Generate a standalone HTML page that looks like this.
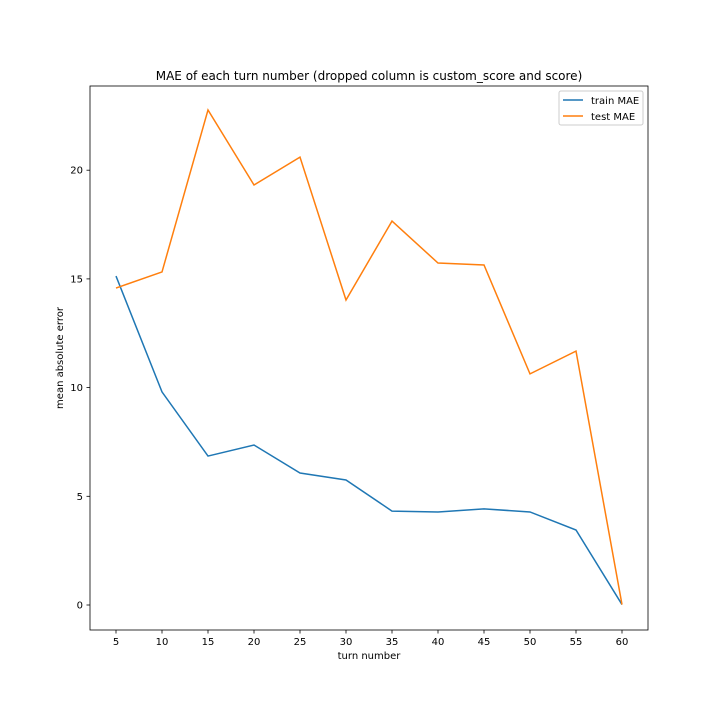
<!DOCTYPE html>
<html><head><meta charset="utf-8"><style>
body{margin:0;background:#fff;}
svg text{font-family:"DejaVu Sans","Liberation Sans",sans-serif;fill:#000;}
</style></head><body>
<svg id="chart" width="720" height="720" xmlns="http://www.w3.org/2000/svg">
<rect x="0" y="0" width="720" height="720" fill="#fff"/>
<text x="369" y="80" font-size="12" text-anchor="middle">MAE of each turn number (dropped column is custom_score and score)</text>
<g id="ticks"></g>
<g id="series"></g>
<rect x="90" y="86" width="558" height="544" fill="none" stroke="#000" stroke-width="0.8"/>
<text x="369" y="659" font-size="10" text-anchor="middle">turn number</text>
<text transform="translate(63,358) rotate(-90)" font-size="10" text-anchor="middle">mean absolute error</text>
<g>
<rect x="559" y="91" width="84" height="34" fill="#fff" stroke="#ccc" rx="2"/>
<line x1="563" y1="100" x2="583" y2="100" stroke="#1f77b4" stroke-width="1.5"/>
<text x="591" y="104" font-size="10">train MAE</text>
<line x1="563" y1="116" x2="583" y2="116" stroke="#ff7f0e" stroke-width="1.5"/>
<text x="591" y="120" font-size="10">test MAE</text>
</g>
</svg>
<script>
const turns=[5,10,15,20,25,30,35,40,45,50,55,60];
const trainMAE=[15.13,9.8,6.85,7.36,6.07,5.75,4.32,4.28,4.42,4.28,3.45,0.02];
const testMAE=[14.58,15.32,22.77,19.32,20.6,14.03,17.66,15.73,15.64,10.63,11.68,0.02];
const xTicks=[5,10,15,20,25,30,35,40,45,50,55,60];
const yTicks=[0,5,10,15,20];
const ns="http://www.w3.org/2000/svg";
function xs(v){return 116+(v-5)*(622-116)/55;}
function ys(v){return 605-v*21.74;}
const tg=document.getElementById('ticks');
function mk(tag,attrs,parent){const e=document.createElementNS(ns,tag);for(const k in attrs)e.setAttribute(k,attrs[k]);parent.appendChild(e);return e;}
xTicks.forEach(t=>{
  const l=mk('line',{x1:xs(t),x2:xs(t),y1:630,y2:633.5,stroke:'#000','stroke-width':0.8},tg);
  
  
  const tx=mk('text',{x:xs(t),y:645,'font-size':10,'text-anchor':'middle'},tg);tx.textContent=t;
  
  
});
yTicks.forEach(t=>{
  const l=mk('line',{x1:86.5,x2:90,y1:ys(t),y2:ys(t),stroke:'#000','stroke-width':0.8},tg);
  
  
  const tx=mk('text',{x:83,y:ys(t)+3.5,'font-size':10,'text-anchor':'end'},tg);tx.textContent=t;
  
  
});
const sg=document.getElementById('series');
function line(vals,color,name){
  const p=mk('polyline',{points:turns.map((t,i)=>xs(t)+','+ys(vals[i])).join(' '),fill:'none',stroke:color,'stroke-width':1.5},sg);
  
  
}
line(trainMAE,'#1f77b4','train-mae-line');
line(testMAE,'#ff7f0e','test-mae-line');
</script>
</body></html>
